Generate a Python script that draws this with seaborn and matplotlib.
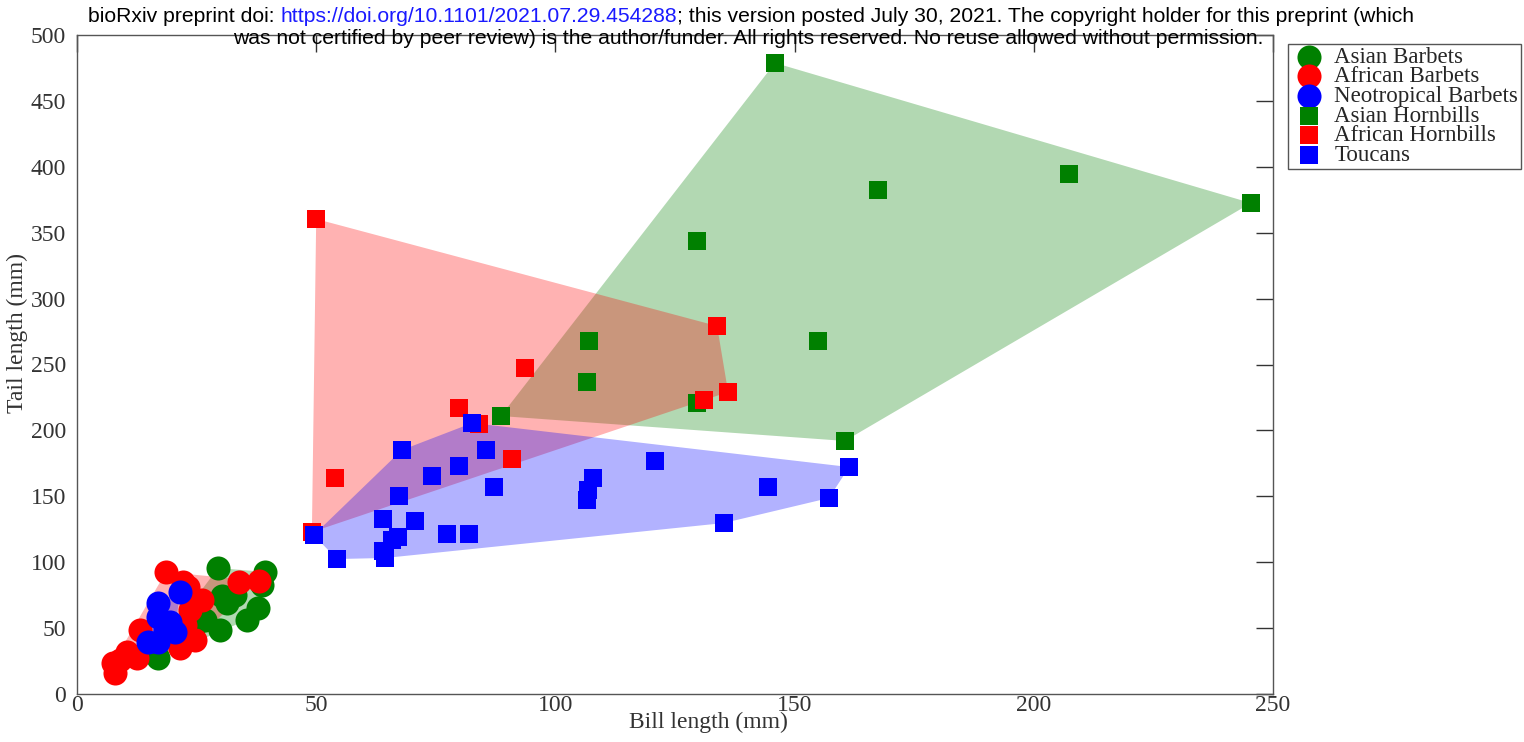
import numpy as np
import pandas as pd
import matplotlib
matplotlib.use("Agg")
import matplotlib.pyplot as plt
import seaborn as sns

# ---- measurements: bill length and tail length (mm) ----
asian_barbet_bill = [29.5, 39.3, 38.7, 37.8, 35.5, 31.4, 30.3, 29.9, 26.8, 24.7, 16.9, 16.3, 33.0]
asian_barbet_tail = [95.6, 92.6, 82.7, 65.2, 56.1, 69.0, 74.4, 48.6, 56.1, 52.4, 27.3, 31.9, 75.1]

african_barbet_bill = [18.6, 23.2, 22.2, 26.1, 33.9, 38.0, 21.5, 13.2, 10.5, 12.5, 7.5, 7.9, 9.0,
                       23.6, 22.6, 24.7]
african_barbet_tail = [92.6, 81.2, 85.0, 71.3, 85.0, 85.7, 34.9, 48.6, 31.9, 27.3, 23.5, 15.9, 25.8,
                       63.7, 52.4, 41.0]

neo_barbet_bill = [21.5, 16.9, 16.9, 19.4, 20.5, 14.8, 16.9, 18.4]
neo_barbet_tail = [77.4, 69.0, 58.4, 54.6, 47.0, 39.5, 39.5, 48.6]

asian_hornbill_bill = [145.9, 167.4, 207.4, 245.4, 129.6, 107.0, 106.6, 154.9, 129.6, 88.6, 160.5]
asian_hornbill_tail = [478.8, 382.4, 394.5, 372.5, 343.7, 267.8, 236.7, 267.8, 220.8, 210.9, 192.0]

african_hornbill_bill = [50.0, 133.8, 93.6, 136.1, 131.1, 79.8, 84.0, 90.9, 54.0, 49.1]
african_hornbill_tail = [360.4, 279.2, 247.3, 229.1, 223.1, 217.0, 204.9, 178.3, 163.9, 122.9]

toucan_bill = [82.6, 67.9, 85.5, 79.8, 74.2, 87.2, 67.3, 64.0, 70.7, 49.5, 77.3, 81.9,
               64.0, 64.4, 65.8, 67.1, 54.3, 107.9, 106.8, 106.6, 120.8, 144.4, 157.2,
               161.4, 135.2]
toucan_tail = [205.6, 185.1, 185.1, 173.0, 165.4, 157.1, 150.2, 132.8, 131.3, 120.6, 121.4, 121.4,
               108.5, 103.2, 116.8, 119.1, 102.4, 163.9, 154.8, 147.2, 176.8, 157.1, 148.7,
               172.2, 129.7]

group_names = ["Asian Barbets", "African Barbets", "Neotropical Barbets",
               "Asian Hornbills", "African Hornbills", "Toucans"]
group_bills = [asian_barbet_bill, african_barbet_bill, neo_barbet_bill,
               asian_hornbill_bill, african_hornbill_bill, toucan_bill]
group_tails = [asian_barbet_tail, african_barbet_tail, neo_barbet_tail,
               asian_hornbill_tail, african_hornbill_tail, toucan_tail]
group_colors = ["#008000", "#ff0000", "#0000ff", "#008000", "#ff0000", "#0000ff"]
group_markers = ["o", "o", "o", "s", "s", "s"]

df = pd.concat(
    [pd.DataFrame({"bill": b, "tail": t, "group": g})
     for g, b, t in zip(group_names, group_bills, group_tails)],
    ignore_index=True,
)


def convex_hull(points):
    """Andrew's monotone chain; returns hull vertices in order."""
    pts = sorted(map(tuple, points))
    if len(pts) <= 2:
        return np.array(pts)

    def cross(o, a, b):
        return (a[0] - o[0]) * (b[1] - o[1]) - (a[1] - o[1]) * (b[0] - o[0])

    lower, upper = [], []
    for p in pts:
        while len(lower) >= 2 and cross(lower[-2], lower[-1], p) <= 0:
            lower.pop()
        lower.append(p)
    for p in reversed(pts):
        while len(upper) >= 2 and cross(upper[-2], upper[-1], p) <= 0:
            upper.pop()
        upper.append(p)
    return np.array(lower[:-1] + upper[:-1])


sns.set_theme(style="white")
plt.rcParams["font.family"] = ["Liberation Serif", "DejaVu Serif"]

W, H = 1524, 742
fig = plt.figure(figsize=(W / 100, H / 100), dpi=100)
ax = fig.add_axes([77 / W, 48 / H, 1196 / W, 659 / H])

# shaded convex hull of each group
for g, c in zip(group_names, group_colors):
    sub = df[df["group"] == g]
    hull = convex_hull(sub[["bill", "tail"]].to_numpy())
    ax.fill(hull[:, 0], hull[:, 1], color=c, alpha=0.3, linewidth=0, zorder=1)

# individual species
for g, c, m in zip(group_names, group_colors, group_markers):
    sub = df[df["group"] == g]
    size = 300 if m == "o" else 175
    sns.scatterplot(data=sub, x="bill", y="tail", color=c, marker=m, s=size,
                    linewidth=0, label=g, ax=ax, zorder=3)

ax.set_xlim(0, 250)
ax.set_ylim(0, 500)
ax.set_xticks(np.arange(0, 251, 50))
ax.set_yticks(np.arange(0, 501, 50))
ax.tick_params(direction="in", length=12, width=1, top=True, right=True,
               labelsize=17, labelcolor="#333333", color="#333333")
ax.tick_params(axis="x", pad=1)
ax.tick_params(axis="y", pad=8)
for sp in ax.spines.values():
    sp.set_visible(True)
    sp.set_color("#555555")
    sp.set_linewidth(1)

ax.set_xlabel("Bill length (mm)", fontsize=17, color="#333333")
ax.set_ylabel("Tail length (mm)", fontsize=17, color="#333333")
ax.xaxis.set_label_coords(0.528, -0.027)
ax.yaxis.set_label_coords(-0.041, 0.548)

leg = ax.legend(loc="upper left", bbox_to_anchor=(1288 / W, 1 - 44 / H),
                bbox_transform=fig.transFigure, borderaxespad=0, fontsize=16.5,
                frameon=True, fancybox=False, framealpha=1, edgecolor="#555555",
                labelspacing=-0.06, handletextpad=0.3, borderpad=0.12,
                handlelength=1.6)
leg.get_frame().set_linewidth(1)

# preprint header
fig.canvas.draw()
renderer = fig.canvas.get_renderer()
hdr = dict(fontsize=15.2, family=["Liberation Sans", "DejaVu Sans"], va="center")
x0 = 88 / W
y1 = 1 - 17 / H
parts = [("bioRxiv preprint doi: ", "black"),
         ("https://doi.org/10.1101/2021.07.29.454288", "#1a1aff"),
         ("; this version posted July 30, 2021. The copyright holder for this preprint (which", "black")]
for txt, col in parts:
    t = fig.text(x0, y1, txt, color=col, **hdr)
    bb = t.get_window_extent(renderer)
    x0 = bb.x1 / W
fig.text(233 / W, 1 - 38 / H,
         "was not certified by peer review) is the author/funder. All rights reserved. No reuse allowed without permission.",
         color="black", **hdr)

fig.savefig("out.png", dpi=100)
